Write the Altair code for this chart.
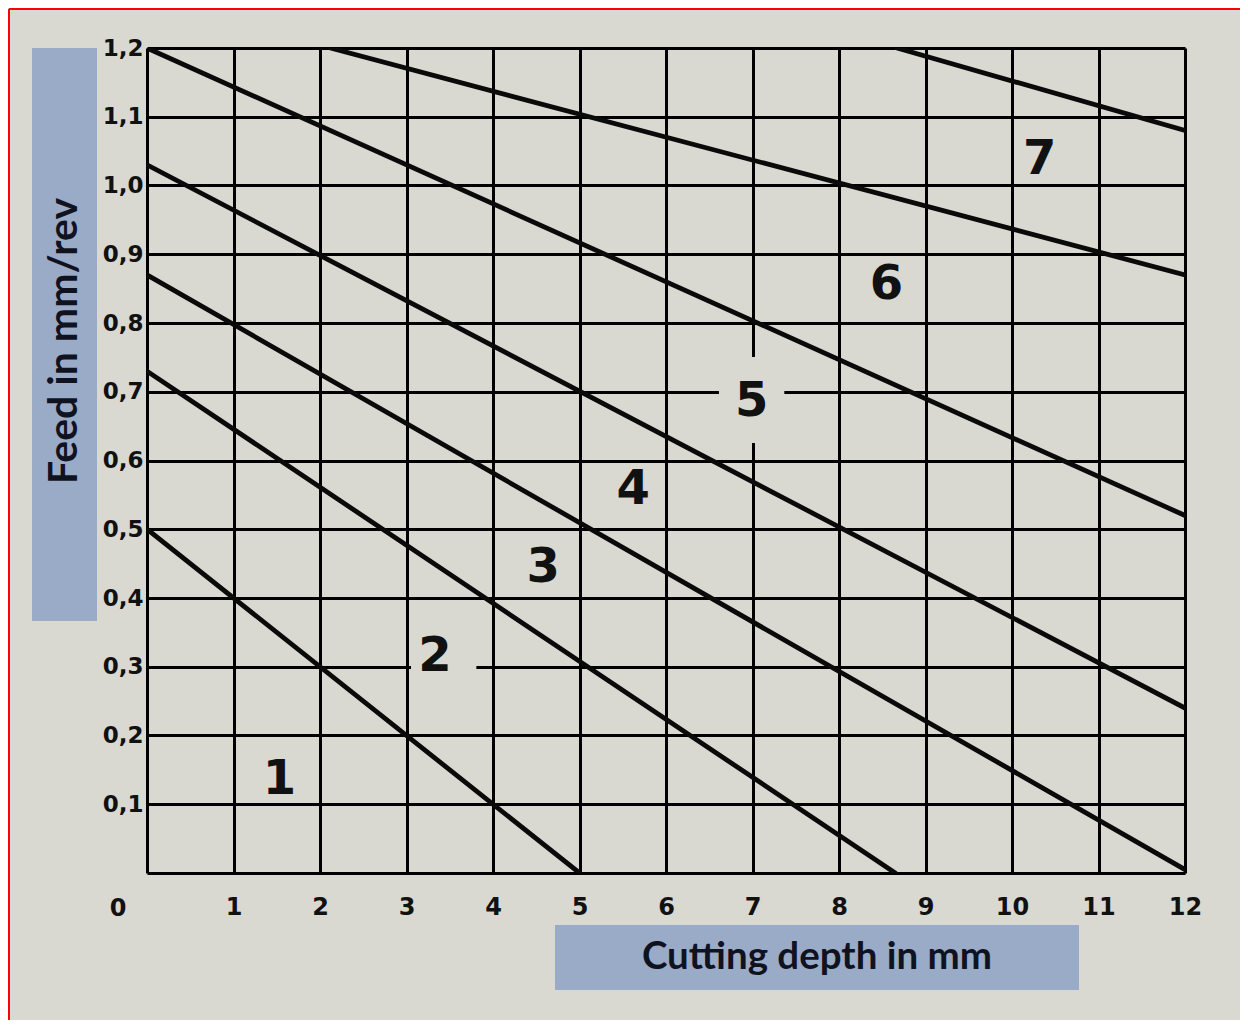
import altair as alt
import pandas as pd

# --- chart values ---
line_ids = ["a", "b", "c", "d", "e", "f", "g"]
x_start = [0.0, 0.0, 0.0, 0.0, 0.0, 2.12, 8.67]
y_start = [0.50, 0.73, 0.87, 1.03, 1.20, 1.20, 1.20]
x_end = [5.0, 8.65, 12.0, 12.0, 12.0, 12.0, 12.0]
y_end = [0.0, 0.0, 0.005, 0.24, 0.52, 0.87, 1.08]

zone_labels = ["1", "2", "3", "4", "5", "6", "7"]
zone_x = [1.53, 3.33, 4.58, 5.62, 6.99, 8.55, 10.32]
zone_y = [0.135, 0.314, 0.444, 0.557, 0.685, 0.855, 1.037]

gap_labels = ["2", "5"]
gap_x = [3.43, 6.99]
gap_y = [0.314, 0.688]

x_ticks = list(range(0, 13))
y_ticks = [round(i * 0.1, 1) for i in range(13)]

x_title = "Cutting depth in mm"
y_title = "Feed in mm/rev"

BG = "#d9d8d1"
BOX = "#9aabc7"
INK = "#111111"
TITLE_INK = "#10131f"

rows = []
for lid, xs, ys, xe, ye in zip(line_ids, x_start, y_start, x_end, y_end):
    rows.append({"line": lid, "x": xs, "y": ys})
    rows.append({"line": lid, "x": xe, "y": ye})
lines_df = pd.DataFrame(rows)
zones_df = pd.DataFrame({"label": zone_labels, "x": zone_x, "y": zone_y})
gaps_df = pd.DataFrame({"label": gap_labels, "x": gap_x, "y": gap_y})
origin_df = pd.DataFrame({"label": ["0"], "x": [0], "y": [0]})
dummy = alt.Data(values=[{}])

xscale = alt.Scale(domain=[0, 12], nice=False, zero=False)
yscale = alt.Scale(domain=[0, 1.2], nice=False, zero=False)

xaxis = alt.Axis(
    values=x_ticks, grid=True, gridColor="black", gridWidth=3, gridOpacity=1,
    domain=False, ticks=False, labelFont="DejaVu Sans", labelFontWeight="bold",
    labelFontSize=24, labelColor=INK, labelPadding=22, labelFlush=False,
    labelOverlap=False, labelExpr="datum.value == 0 ? '' : datum.label", title=None,
)
yaxis = alt.Axis(
    values=y_ticks, grid=True, gridColor="black", gridWidth=3, gridOpacity=1,
    domain=False, ticks=False, labelFont="DejaVu Sans", labelFontWeight="bold",
    labelFontSize=23, labelColor=INK, labelPadding=4, labelFlush=False,
    labelOverlap=False,
    labelExpr="datum.value == 0 ? '' : replace(format(datum.value, '.1f'), '.', ',')",
    title=None,
)

X = alt.X("x:Q", scale=xscale, axis=xaxis)
Y = alt.Y("y:Q", scale=yscale, axis=yaxis)

gap_shape = "M-0.76,-1L0.76,-1L0.76,1L-0.76,1Z"

gaps = alt.Chart(gaps_df).mark_point(
    shape=gap_shape, filled=True, color=BG, opacity=1, size=7396, strokeWidth=0
).encode(x=X, y=Y)

lines = alt.Chart(lines_df).mark_line(
    color="#0a0a0a", strokeWidth=4.8, clip=True, strokeCap="round"
).encode(x=X, y=Y, detail="line:N", order="x:Q")

zones = alt.Chart(zones_df).mark_text(
    font="DejaVu Sans", fontWeight="bold", fontSize=48, color=INK,
    align="center", baseline="middle",
).encode(x=X, y=Y, text="label:N")

origin = alt.Chart(origin_df).mark_text(
    font="DejaVu Sans", fontWeight="bold", fontSize=24, color=INK,
    align="center", baseline="middle", dx=-29, dy=36,
).encode(x=X, y=Y, text="label:N")

ybox = alt.Chart(dummy).mark_rect(color=BOX).encode(
    x=alt.value(-115), x2=alt.value(-50), y=alt.value(0), y2=alt.value(573)
)
xbox = alt.Chart(dummy).mark_rect(color=BOX).encode(
    x=alt.value(408), x2=alt.value(932), y=alt.value(877), y2=alt.value(942)
)
ytext = alt.Chart(dummy).mark_text(
    text=y_title, angle=270, font="Lato", fontWeight="bold", fontSize=41,
    color=TITLE_INK, align="center", baseline="middle",
).encode(x=alt.value(-82), y=alt.value(293))
xtext = alt.Chart(dummy).mark_text(
    text=x_title, font="Lato", fontWeight="bold", fontSize=38.5,
    color=TITLE_INK, align="center", baseline="middle",
).encode(x=alt.value(670), y=alt.value(909))

red_top = alt.Chart(dummy).mark_rule(color="red", strokeWidth=2).encode(
    x=alt.value(-138), x2=alt.value(1100), y=alt.value(-39)
)
red_left = alt.Chart(dummy).mark_rule(color="red", strokeWidth=2).encode(
    x=alt.value(-138), y=alt.value(-39), y2=alt.value(980)
)

chart = alt.layer(
    gaps, lines, zones, origin, ybox, xbox, ytext, xtext, red_top, red_left
).properties(
    width=1038, height=825,
    autosize=alt.AutoSizeParams(type="none"),
    padding={"left": 139, "top": 40, "right": 55, "bottom": 147},
    background=BG,
).configure_view(stroke=None)

chart.save("out.html", embed_options={"renderer": "svg", "actions": False})
